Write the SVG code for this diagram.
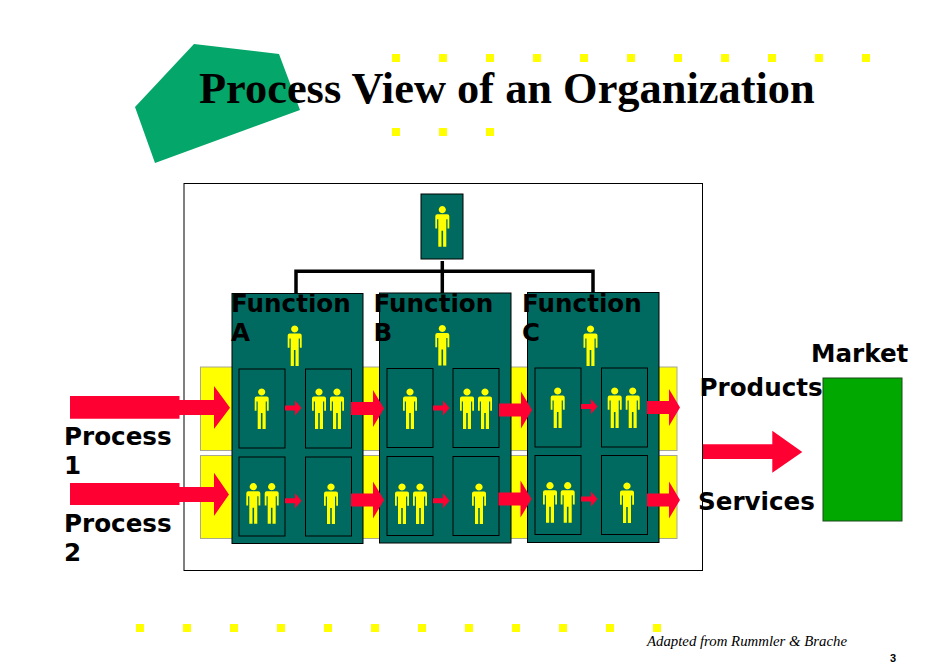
<svg xmlns="http://www.w3.org/2000/svg" xmlns:xlink="http://www.w3.org/1999/xlink" width="950" height="667" viewBox="0 0 950 667">
<style>
.dot{fill:#ffff00}
.bar{fill:#ffff00;stroke:#a8a890;stroke-width:1}
.func{fill:#006a60;stroke:#000;stroke-width:1}
.org{fill:none;stroke:#000;stroke-width:3.5}
.red{fill:#ff0033}
.lbl{font-family:"DejaVu Sans",sans-serif;font-weight:bold;font-size:24.6px;fill:#000}
</style>
<defs>
<path id="p" fill="#ffff00" d="M0-3.600a3.600 3.600 0 1 1-.01 0zM-5 4.600H5Q7 4.600 7 6.600V18.800H5.200V9.600H4V20V37H.8V21H-.8V37H-4V20V9.600H-5.200V18.800H-7V6.600Q-7 4.600-5 4.600z"/>
<rect id="s" width="46" height="79" fill="#006a60" stroke="#000" stroke-width="1"/>
<path id="m" class="red" d="M0-6.500H22V-18.500L33 0L22 18.500V6.500H0z"/>
<path id="t" class="red" d="M0-2.500H10V-7.500L16.500 0L10 7.500V2.500H0z"/>
</defs>
<rect width="950" height="667" fill="#fff"/>
<polygon id="badge" points="194,44 279,54 300,110 155,163 135,107" fill="#05a66a"/>
<g id="dots" class="dot">
<rect x="392" y="54" width="8" height="8"/><rect x="439" y="54" width="8" height="8"/><rect x="486" y="54" width="8" height="8"/><rect x="533" y="54" width="8" height="8"/><rect x="580" y="54" width="8" height="8"/><rect x="627" y="54" width="8" height="8"/><rect x="674" y="54" width="8" height="8"/><rect x="721" y="54" width="8" height="8"/><rect x="768" y="54" width="8" height="8"/><rect x="815" y="54" width="8" height="8"/><rect x="862" y="54" width="8" height="8"/>
<rect x="392" y="128" width="8" height="8"/><rect x="439" y="128" width="8" height="8"/><rect x="486" y="128" width="8" height="8"/>
<rect x="136" y="624" width="8" height="8"/><rect x="183" y="624" width="8" height="8"/><rect x="230" y="624" width="8" height="8"/><rect x="277" y="624" width="8" height="8"/><rect x="324" y="624" width="8" height="8"/><rect x="371" y="624" width="8" height="8"/><rect x="418" y="624" width="8" height="8"/><rect x="465" y="624" width="8" height="8"/><rect x="512" y="624" width="8" height="8"/><rect x="559" y="624" width="8" height="8"/><rect x="606" y="624" width="8" height="8"/><rect x="653" y="624" width="8" height="8"/>
</g>
<text id="title" x="199" y="103" font-family="'Liberation Serif',serif" font-weight="bold" font-size="44.4px" fill="#000">Process View of an Organization</text>
<rect id="organization" x="184" y="183.500" width="518.500" height="387" fill="#fff" stroke="#000" stroke-width="1"/>
<g id="process-bars">
<rect class="bar" x="200.500" y="367" width="476.500" height="83.500"/>
<rect class="bar" x="200.500" y="455.500" width="476.500" height="83"/>
</g>
<g id="connectors">
<path class="org" d="M296 293V271.300H593V293M442.300 261V293"/>
</g>
<g id="ceo"><rect class="func" x="421" y="194" width="42" height="65"/><use href="#p" x="442.300" y="209.700"/></g>
<g id="function-a">
<rect class="func" x="232" y="293.500" width="131" height="250"/>
<use href="#p" x="294.700" y="329"/>
<use href="#s" x="239" y="369"/><use href="#s" x="305.500" y="369"/><use href="#s" x="239" y="457"/><use href="#s" x="305.500" y="457"/>
<use href="#p" x="261.700" y="392"/><use href="#p" x="319" y="392"/><use href="#p" x="337" y="392"/>
<use href="#p" x="253.300" y="486.700"/><use href="#p" x="271.700" y="486.700"/><use href="#p" x="331" y="487"/>
</g>
<g id="function-b">
<rect class="func" x="379.500" y="293" width="131.500" height="250"/>
<use href="#p" x="442.300" y="328.500"/>
<use href="#s" x="387" y="368.500"/><use href="#s" x="453" y="368.500"/><use href="#s" x="387" y="456.500"/><use href="#s" x="453" y="456.500"/>
<use href="#p" x="410" y="392"/><use href="#p" x="467" y="392"/><use href="#p" x="485" y="392"/>
<use href="#p" x="402" y="487"/><use href="#p" x="420" y="487"/><use href="#p" x="479" y="487"/>
</g>
<g id="function-c">
<rect class="func" x="527.500" y="292.500" width="131.500" height="250"/>
<use href="#p" x="590.500" y="329"/>
<use href="#s" x="535" y="368"/><use href="#s" x="601.500" y="368"/><use href="#s" x="535" y="455.500"/><use href="#s" x="601.500" y="455.500"/>
<use href="#p" x="557.700" y="391"/><use href="#p" x="614.700" y="391"/><use href="#p" x="632.700" y="391"/>
<use href="#p" x="550" y="485.700"/><use href="#p" x="567.700" y="485.700"/><use href="#p" x="627" y="486"/>
</g>
<g id="flow-arrows">
<path class="red" d="M70 396H179.500V400H214V386L230 407.700L214 429V415H179.500V418.700H70z"/>
<path class="red" d="M70 483H179.500V487H214V472.700L229 494.500L214 516V502H179.500V505H70z"/>
<use href="#m" x="351" y="408.500"/><use href="#m" x="499" y="410"/><use href="#m" x="647" y="407.500"/>
<use href="#m" x="351" y="500"/><use href="#m" x="498.500" y="499"/><use href="#m" x="647" y="500"/>
<use href="#t" x="285" y="408"/><use href="#t" x="433" y="408"/><use href="#t" x="581" y="406.500"/>
<use href="#t" x="285" y="500.700"/><use href="#t" x="433" y="500.700"/><use href="#t" x="581" y="499"/>
<path class="red" d="M703 444.300H772.300V430.700L802.300 452L772.300 472.700V459H703z"/>
</g>
<g id="market"><rect x="823" y="378" width="79" height="143" fill="#00a800" stroke="#1a4a1a" stroke-width="1"/></g>
<g id="labels">
<text class="lbl" x="231" y="311.500">Function</text><text class="lbl" x="231" y="340.500">A</text>
<text class="lbl" x="373.500" y="312">Function</text><text class="lbl" x="373.500" y="341">B</text>
<text class="lbl" x="522" y="311.500">Function</text><text class="lbl" x="522" y="340.500">C</text>
<text class="lbl" x="64" y="445">Process</text><text class="lbl" x="64" y="474">1</text>
<text class="lbl" x="64" y="532">Process</text><text class="lbl" x="64" y="561">2</text>
<text class="lbl" x="811" y="362">Market</text>
<text class="lbl" x="699.500" y="395.500">Products</text>
<text class="lbl" x="698" y="510">Services</text>
</g>
<text id="credit" x="647" y="646" font-family="'Liberation Serif',serif" font-style="italic" font-size="14.8px" fill="#000">Adapted from Rummler &amp; Brache</text>
<text id="page" x="890" y="662" font-family="'Liberation Sans',sans-serif" font-weight="bold" font-size="11px" fill="#000">3</text>
</svg>
